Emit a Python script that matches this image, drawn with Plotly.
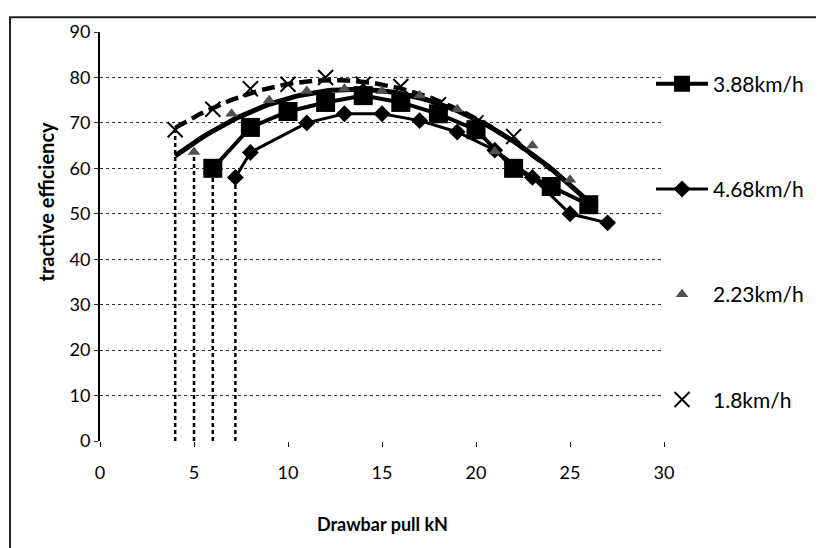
import numpy as np
import plotly.graph_objects as go

# ---- data ----
x_388 = [6, 8, 10, 12, 14, 16, 18, 20, 22, 24, 26]
y_388 = [60, 69, 72.5, 74.5, 76, 74.5, 72, 68.5, 60, 56, 52]

x_468 = [7.2, 8, 11, 13, 15, 17, 19, 21, 23, 25, 27]
y_468 = [58, 63.5, 70, 72, 72, 70.5, 68, 64, 58, 50, 48]

x_223 = [5, 7, 9, 11, 13, 15, 17, 19, 21, 23, 25]
y_223 = [63.6, 72, 75, 77, 77.5, 77, 76, 73, 63.7, 65, 57.5]

x_18 = [4, 6, 8, 10, 12, 14, 16, 18, 20, 22]
y_18 = [68.5, 73, 77.5, 78.5, 80, 78.5, 78, 74, 70, 67]

x_ticks = [0, 5, 10, 15, 20, 25, 30]
y_ticks = [0, 10, 20, 30, 40, 50, 60, 70, 80, 90]

FONT = "Lato, Carlito, Calibri, sans-serif"
W, H = 824, 548
L, R, T, B = 92, 656, 18, 433

fig = go.Figure()

# trendlines (2nd-order polynomial fitted to the marker-only series)
c223 = np.polyfit(x_223, y_223, 2)
xt223 = np.linspace(x_223[0] - 1, x_223[-1] + 1, 80)
fig.add_trace(go.Scatter(x=xt223, y=np.polyval(c223, xt223), mode="lines",
                         line=dict(color="black", width=5), showlegend=False, hoverinfo="skip"))
c18 = np.polyfit(x_18, y_18, 2)
xt18 = np.linspace(x_18[0], x_18[-1] + 2, 80)
fig.add_trace(go.Scatter(x=xt18, y=np.polyval(c18, xt18), mode="lines",
                         line=dict(color="black", width=4.5, dash="13px,6px"),
                         showlegend=False, hoverinfo="skip"))

# drop lines from the first point of each series
for xs, ys in [(x_18, y_18), (x_223, y_223), (x_388, y_388), (x_468, y_468)]:
    fig.add_trace(go.Scatter(x=[xs[0], xs[0]], y=[0, ys[0]], mode="lines",
                             line=dict(color="black", width=2.5, dash="4px,3px"),
                             showlegend=False, hoverinfo="skip"))

fig.add_trace(go.Scatter(x=x_388, y=y_388, name="3.88km/h", mode="lines+markers",
                         line=dict(color="black", width=4),
                         marker=dict(symbol="square", size=19, color="black"),
                         legendgroup="a"))
fig.add_trace(go.Scatter(x=x_468, y=y_468, name="4.68km/h", mode="lines+markers",
                         line=dict(color="black", width=3),
                         marker=dict(symbol="diamond", size=13, color="black"),
                         legendgroup="b"))
fig.add_trace(go.Scatter(x=x_223, y=y_223, name="2.23km/h", mode="markers",
                         marker=dict(symbol="triangle-up", size=11, color="#505050"),
                         legendgroup="c"))
fig.add_trace(go.Scatter(x=x_18, y=y_18, name="1.8km/h", mode="markers",
                         marker=dict(symbol="x-thin", size=15, color="black",
                                     line=dict(color="black", width=2)),
                         legendgroup="d"))

fig.update_layout(
    width=W, height=H,
    margin=dict(l=L, r=W - R, t=T, b=H - B),
    paper_bgcolor="white", plot_bgcolor="white",
    font=dict(family=FONT, size=18, color="black"),
    legend=dict(x=0.977, xanchor="left", y=0.923, yanchor="top",
                tracegroupgap=75, itemwidth=52,
                font=dict(size=21, family=FONT),
                bgcolor="rgba(0,0,0,0)"),
    showlegend=True,
)
fig.update_xaxes(range=[0, 30], tickvals=x_ticks, ticktext=[str(v) for v in x_ticks],
                 showgrid=False, zeroline=False, showline=False,
                 ticks="outside", ticklen=5, tickcolor="black", ticklabelstandoff=10,
                 tickfont=dict(size=18))
fig.update_yaxes(range=[0, 90], tickvals=y_ticks, ticktext=[str(v) for v in y_ticks],
                 showgrid=True, gridcolor="#333333", gridwidth=1, griddash="dot",
                 zeroline=False, showline=True, linecolor="black", linewidth=2,
                 ticks="outside", ticklen=4, tickcolor="#333333",
                 tickfont=dict(size=18))

# axis titles
fig.add_annotation(text="<b>Drawbar pull kN</b>", xref="paper", yref="paper",
                   x=0.5, y=(B - 530) / (B - T), showarrow=False,
                   font=dict(size=18, family=FONT))
fig.add_annotation(text="<b>tractive efficiency</b>", xref="paper", yref="paper",
                   x=(24 - L) / (R - L), y=(B - 190) / (B - T), textangle=-90,
                   showarrow=False, font=dict(size=20, family=FONT))

# chart border
fig.add_shape(type="rect", xref="paper", yref="paper",
              x0=(2 - L) / (R - L), x1=(821 - L) / (R - L),
              y0=(B - 545) / (B - T), y1=(B - 3) / (B - T),
              line=dict(color="#222222", width=2))

fig.write_html("out.html")
